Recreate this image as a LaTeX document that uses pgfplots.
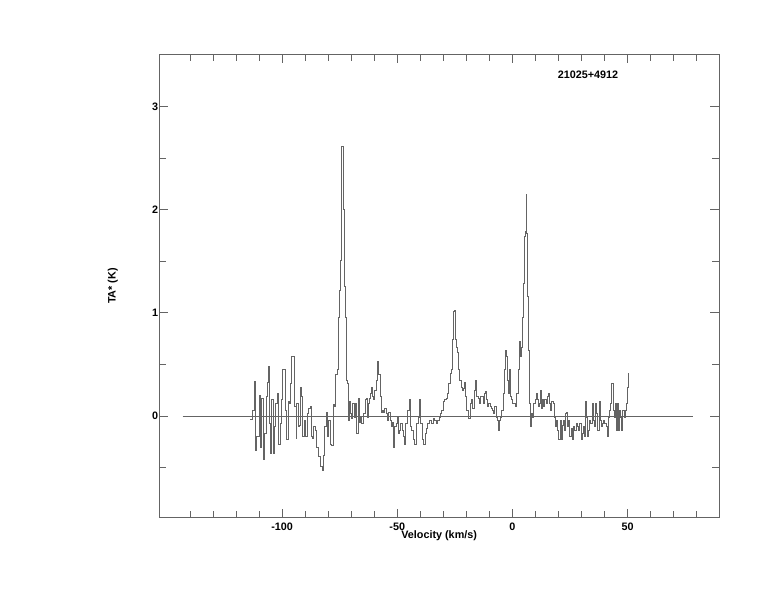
\documentclass[border=0pt]{standalone}
\usepackage{fontspec}
\setmainfont{Liberation Sans}
\usepackage{pgfplots}
\pgfplotsset{compat=1.18}
\definecolor{frame}{RGB}{100,100,100}
\definecolor{spec}{RGB}{100,100,100}
\begin{document}
\begin{tikzpicture}[x=1pt,y=1pt]
\path (-159.3,-94.3) rectangle (614.7,517.7);
\begin{axis}[
  at={(0,0)}, anchor=south west,
  scale only axis, width=559.7pt, height=463.4pt,
  xmin=-153.3, xmax=89.7, ymin=-0.985, ymax=3.504,
  axis line style={frame, line width=0.7pt},
  xtick={-100,-50,0,50}, minor xtick={-140,-130,-120,-110,-90,-80,-70,-60,-40,-30,-20,-10,10,20,30,40,60,70,80},
  ytick={0,1,2,3}, minor ytick={-0.5,0.5,1.5,2.5},
  tick style={frame, line width=0.7pt},
  major tick length=9pt, minor tick length=7pt,
  tick align=inside, xtick pos=both, ytick pos=both,
  /pgf/number format/assume math mode=true,
  ticklabel style={font=\bfseries\fontsize{10.8}{13}\selectfont},
  xticklabel style={inner sep=0pt, yshift=-5pt},
  yticklabel style={inner sep=0pt, xshift=-1pt},
  xlabel={Velocity (km/s)},
  xlabel style={font=\bfseries\fontsize{10.8}{13}\selectfont, at={(axis description cs:0.5,0)}, anchor=north, yshift=-13pt, inner sep=0pt},
  ylabel={TA* (K)},
  ylabel style={font=\bfseries\fontsize{10.8}{13}\selectfont, at={(axis description cs:-0.083,0.5)}, anchor=center, rotate=0, inner sep=0pt},
  clip=false,
]
\addplot[frame, line width=0.7pt] coordinates {(-143.2,0) (78.5,0)};
\addplot[spec, line width=0.6pt, const plot] coordinates {
(-113.74,-0.03) (-112.94,0.06) (-112.14,0.34) (-111.82,-0.33) (-111.02,-0.20) (-110.54,-0.20) (-110.06,0.20) (-109.42,-0.30) (-109.11,0.17) (-108.31,-0.42)
(-107.83,-0.17) (-107.03,0.19) (-106.55,0.33) (-106.07,0.48) (-105.43,-0.07) (-104.95,-0.36) (-104.47,0.16) (-103.99,-0.36) (-103.35,-0.10) (-102.88,0.12)
(-102.24,0.22) (-101.44,-0.27) (-100.80,-0.07) (-100.32,0.16) (-99.84,0.45) (-99.36,0.45) (-98.56,0.06) (-98.08,-0.23) (-97.44,0.14) (-96.96,0.12)
(-96.49,0.32) (-95.85,0.58) (-95.05,0.58) (-94.57,0.09) (-93.93,-0.22) (-93.61,0.12) (-92.97,-0.10) (-92.65,-0.09) (-92.01,0.28) (-91.53,0.19)
(-91.05,-0.20) (-90.42,-0.04) (-89.78,-0.20) (-89.14,0.03) (-88.50,0.07) (-87.86,0.09) (-87.38,-0.20) (-86.74,-0.22) (-86.26,-0.10) (-85.46,-0.14)
(-84.98,-0.30) (-84.19,-0.39) (-83.39,-0.49) (-82.59,-0.53) (-82.11,-0.38) (-81.47,-0.10) (-80.99,0.04) (-80.51,-0.20) (-79.87,-0.04) (-79.23,-0.27)
(-78.59,-0.28) (-77.96,0.11) (-77.32,0.09) (-76.84,0.40) (-76.20,0.45) (-75.72,0.96) (-75.24,1.22) (-74.76,1.51) (-74.44,2.26) (-74.12,2.61)
(-73.64,2.61) (-73.32,2.00) (-72.84,1.26) (-72.52,0.96) (-72.20,0.35) (-71.73,0.32) (-71.41,-0.04) (-70.77,0.14) (-70.29,0.03) (-69.81,-0.02)
(-69.33,0.12) (-68.85,-0.01) (-68.21,0.12) (-67.73,-0.17) (-67.09,0.17) (-66.45,-0.06) (-65.97,-0.01) (-65.50,-0.07) (-64.70,0.03) (-63.90,0.16)
(-63.42,0.17) (-62.94,-0.01) (-62.62,0.12) (-62.30,0.17) (-61.66,0.22) (-61.18,0.28) (-60.70,0.19) (-60.22,0.16) (-59.74,0.25) (-59.11,0.35)
(-58.63,0.53) (-58.15,0.40) (-57.51,0.19) (-57.03,0.04) (-56.39,0.06) (-55.91,0.04) (-55.43,0.07) (-54.79,0.03) (-54.31,-0.04) (-53.67,0.04)
(-53.04,-0.04) (-52.56,-0.10) (-52.08,-0.06) (-51.60,-0.30) (-51.12,-0.10) (-50.48,-0.07) (-50.00,-0.01) (-49.52,-0.17) (-49.04,-0.14) (-48.56,-0.07)
(-47.92,-0.14) (-47.44,-0.20) (-46.96,-0.27) (-46.33,-0.07) (-45.69,0.06) (-45.21,0.06) (-44.73,0.16) (-44.25,-0.10) (-43.77,-0.14) (-43.13,-0.23)
(-42.49,-0.27) (-41.85,-0.20) (-41.53,-0.07) (-40.89,-0.01) (-40.26,0.16) (-39.78,-0.07) (-39.14,-0.23) (-38.50,-0.27) (-38.02,-0.17) (-37.54,-0.12)
(-36.74,-0.07) (-35.94,-0.04) (-35.14,-0.07) (-34.50,-0.02) (-33.87,-0.04) (-33.07,-0.07) (-32.43,-0.04) (-31.95,-0.01) (-31.31,0.03) (-30.67,0.06)
(-30.19,0.14) (-29.55,0.16) (-28.91,0.17) (-28.43,0.22) (-27.80,0.32) (-27.16,0.41) (-26.68,0.45) (-26.20,0.71) (-25.88,0.74) (-25.56,1.01)
(-25.24,1.02) (-24.76,0.74) (-24.28,0.67) (-23.96,0.62) (-23.48,0.45) (-23.00,0.35) (-22.36,0.28) (-21.88,0.25) (-21.41,0.27) (-20.93,0.33)
(-20.29,0.19) (-19.81,0.06) (-19.33,-0.02) (-18.85,-0.02) (-18.21,0.12) (-17.73,0.16) (-17.25,0.07) (-16.61,0.25) (-16.13,0.35) (-15.50,0.19)
(-14.86,0.17) (-14.38,0.12) (-13.90,0.19) (-13.26,0.19) (-12.78,0.12) (-12.30,0.22) (-11.82,0.24) (-11.34,0.16) (-10.86,0.09) (-10.38,0.12)
(-9.74,0.09) (-9.27,0.07) (-8.79,0.06) (-8.31,0.03) (-7.83,0.09) (-7.19,-0.01) (-6.71,-0.04) (-6.23,-0.14) (-5.75,-0.04) (-5.11,-0.01)
(-4.63,0.06) (-4.15,0.22) (-3.67,0.45) (-3.19,0.64) (-2.72,0.58) (-2.24,0.35) (-1.76,0.22) (-1.28,0.45) (-0.80,0.19) (-0.32,0.16)
(0.16,0.12) (0.64,0.12) (1.12,0.09) (1.60,0.22) (2.08,0.22) (2.56,0.45) (3.04,0.72) (3.51,0.58) (3.83,0.67) (4.31,0.96)
(4.79,1.29) (5.27,1.74) (5.59,1.79) (5.91,2.15) (6.23,1.77) (6.55,1.16) (6.87,0.64) (7.19,0.35) (7.51,0.12) (7.83,-0.10)
(8.31,0.03) (8.79,-0.01) (9.27,0.12) (9.74,0.16) (10.22,0.22) (10.70,0.16) (11.18,0.09) (11.66,0.12) (12.14,0.25) (12.62,0.07)
(13.10,0.16) (13.58,0.09) (14.06,0.16) (14.54,0.12) (15.02,0.19) (15.65,0.22) (16.13,0.12) (16.61,0.06) (17.09,0.14) (17.73,0.12)
(18.21,-0.01) (18.69,-0.10) (19.17,-0.04) (19.65,-0.14) (20.13,-0.23) (20.61,-0.04) (21.09,-0.23) (21.57,-0.09) (22.04,-0.04) (22.52,-0.14)
(23.00,0.03) (23.48,0.04) (23.96,-0.10) (24.44,-0.04) (24.92,-0.20) (25.56,-0.12) (26.04,-0.23) (26.52,-0.10) (27.00,-0.14) (27.64,-0.07)
(28.12,-0.10) (28.59,-0.14) (29.23,-0.07) (29.71,-0.23) (30.19,-0.17) (30.67,-0.10) (31.15,-0.20) (31.63,0.14) (32.11,-0.01) (32.59,-0.20)
(33.07,-0.14) (33.55,-0.04) (34.03,-0.07) (34.50,0.12) (34.98,-0.04) (35.46,-0.10) (35.94,0.12) (36.58,0.03) (37.06,-0.14) (37.54,0.14)
(38.02,-0.04) (38.50,-0.10) (38.98,-0.07) (39.46,-0.04) (39.94,-0.07) (40.58,-0.10) (41.05,-0.20) (41.53,-0.01) (42.01,0.06) (42.49,0.12)
(43.13,0.32) (43.61,0.06) (44.09,-0.01) (44.57,0.12) (45.05,-0.14) (45.53,0.12) (46.01,-0.14) (46.49,0.06) (46.96,-0.01) (47.44,-0.14)
(47.92,0.06) (48.40,-0.01) (48.88,0.06) (49.36,0.12) (49.84,0.28) (50.16,0.41) (50.50,0.41)
};
\node[font=\bfseries\fontsize{10.8}{13}\selectfont, inner sep=0pt] at (axis description cs:0.766,0.955) {21025+4912};
\end{axis}
\end{tikzpicture}
\end{document}
